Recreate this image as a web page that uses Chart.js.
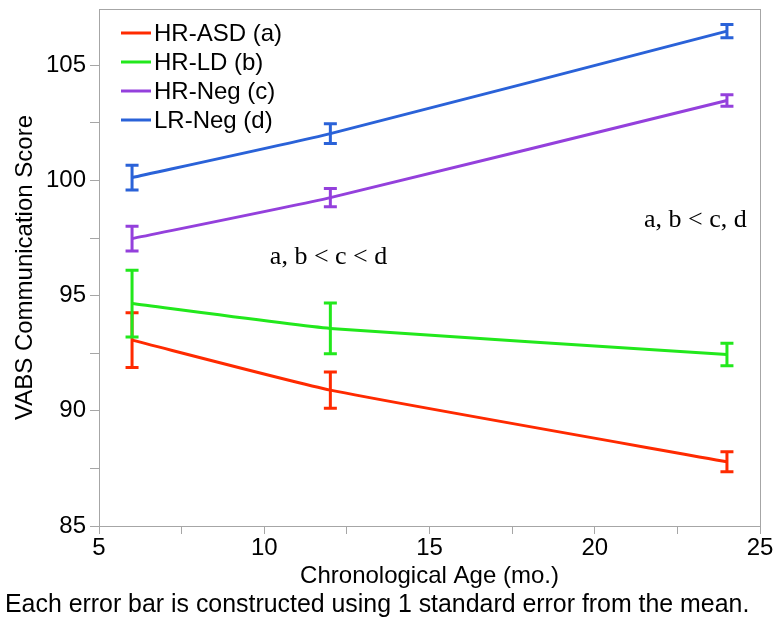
<!DOCTYPE html>
<html>
<head>
<meta charset="utf-8">
<script src="https://cdn.jsdelivr.net/npm/chart.js@4.4.0/dist/chart.umd.min.js"></script>
<style>
  body { margin: 0; background: #fff; }
  #chart { display: block; }
</style>
</head>
<body>
<canvas id="chart" width="774" height="621"></canvas>
<script>
// chronological age (months) of each visit
const ages = [6, 12, 24];

// group means and standard errors
const hrAsd = [93.07, 90.90, 87.79];
const hrAsdSe = [1.19, 0.79, 0.43];
const hrLd = [94.66, 93.58, 92.45];
const hrLdSe = [1.45, 1.10, 0.49];
const hrNeg = [97.48, 99.26, 103.48];
const hrNegSe = [0.54, 0.40, 0.25];
const lrNeg = [100.13, 102.04, 106.49];
const lrNegSe = [0.54, 0.43, 0.29];

const seriesNames = ['HR-ASD (a)', 'HR-LD (b)', 'HR-Neg (c)', 'LR-Neg (d)'];

// axis ticks (minor ticks carry an empty label)
const xTicks = [5, 7.5, 10, 12.5, 15, 17.5, 20, 22.5, 25];
const xTickLabels = ['5', '', '10', '', '15', '', '20', '', '25'];
const yTicks = [85, 87.5, 90, 92.5, 95, 97.5, 100, 102.5, 105];
const yTickLabels = ['85', '', '90', '', '95', '', '100', '', '105'];

const noteTexts = ['a, b < c < d', 'a, b < c, d'];
const footerText = 'Each error bar is constructed using 1 standard error from the mean.';

const SANS = '"Liberation Sans", Arial, sans-serif';
const SERIF = '"Liberation Serif", "Times New Roman", serif';
const FRAME = '#a6a6a6';
const colors = ['#ff2a00', '#22e81c', '#9440dc', '#2a62d8'];

const means = [hrAsd, hrLd, hrNeg, lrNeg];
const errors = [hrAsdSe, hrLdSe, hrNegSe, lrNegSe];

Chart.defaults.font.family = SANS;
Chart.defaults.color = '#000';

// error bars with caps, one per point
const errorBars = {
  id: 'errorBars',
  afterDatasetsDraw(chart) {
    const { ctx, scales: { x, y } } = chart;
    ctx.save();
    ctx.lineWidth = 3;
    chart.data.datasets.forEach((ds, d) => {
      ctx.strokeStyle = ds.borderColor;
      ds.data.forEach((p, i) => {
        const px = x.getPixelForValue(p.x);
        const top = y.getPixelForValue(p.y + errors[d][i]);
        const bot = y.getPixelForValue(p.y - errors[d][i]);
        ctx.beginPath();
        ctx.moveTo(px, top);
        ctx.lineTo(px, bot);
        ctx.moveTo(px - 6.5, top);
        ctx.lineTo(px + 6.5, top);
        ctx.moveTo(px - 6.5, bot);
        ctx.lineTo(px + 6.5, bot);
        ctx.stroke();
      });
    });
    ctx.restore();
  }
};

// frame, legend, notes and footer
const decorations = {
  id: 'decorations',
  afterDraw(chart) {
    const { ctx, chartArea: a, scales: { x, y } } = chart;
    ctx.save();
    ctx.strokeStyle = FRAME;
    ctx.lineWidth = 1;
    ctx.strokeRect(a.left + 0.5, a.top + 0.5, a.right - a.left, a.bottom - a.top);

    ctx.font = '24px ' + SANS;
    ctx.textBaseline = 'middle';
    ctx.fillStyle = '#000';
    chart.data.datasets.forEach((ds, i) => {
      const ly = 33 + i * 29;
      ctx.strokeStyle = ds.borderColor;
      ctx.lineWidth = 3;
      ctx.beginPath();
      ctx.moveTo(121, ly);
      ctx.lineTo(151, ly);
      ctx.stroke();
      ctx.fillText(ds.label, 154, ly + 1);
    });

    ctx.font = '26px ' + SERIF;
    ctx.textBaseline = 'alphabetic';
    ctx.textAlign = 'left';
    ctx.fillText(noteTexts[0], x.getPixelForValue(10.17), y.getPixelForValue(96.37));
    ctx.textAlign = 'right';
    ctx.fillText(noteTexts[1], x.getPixelForValue(24.6), y.getPixelForValue(97.97));

    ctx.font = '24.9px ' + SANS;
    ctx.textAlign = 'left';
    ctx.textBaseline = 'middle';
    ctx.fillText(footerText, 5, 605);
    ctx.restore();
  }
};

new Chart(document.getElementById('chart'), {
  type: 'line',
  data: {
    datasets: seriesNames.map((name, d) => ({
      label: name,
      data: ages.map((a, i) => ({ x: a, y: means[d][i] })),
      borderColor: colors[d],
      backgroundColor: colors[d],
      borderWidth: 3,
      pointRadius: 0,
      tension: 0.15,
      fill: false
    }))
  },
  options: {
    responsive: false,
    animation: false,
    devicePixelRatio: 1,
    layout: { padding: { top: 9, right: 14, left: 0, bottom: 0 } },
    plugins: { legend: { display: false }, tooltip: { enabled: false } },
    scales: {
      x: {
        type: 'linear',
        min: 5,
        max: 25,
        afterBuildTicks: s => { s.ticks = xTicks.map(v => ({ value: v })); },
        afterFit: s => { s.height = 95; s.paddingLeft = 0; s.paddingRight = 0; },
        ticks: {
          autoSkip: false,
          maxRotation: 0,
          padding: 0,
          font: { size: 24 },
          callback: (v, i) => xTickLabels[i]
        },
        grid: { drawOnChartArea: false, tickLength: 8, color: FRAME },
        border: { color: FRAME },
        title: {
          display: true,
          text: 'Chronological Age (mo.)',
          font: { size: 24 },
          padding: { top: 0, bottom: 30 }
        }
      },
      y: {
        min: 85,
        max: 107.45,
        afterBuildTicks: s => { s.ticks = yTicks.map(v => ({ value: v })); },
        afterFit: s => { s.width = 99; s.paddingTop = 0; s.paddingBottom = 0; },
        ticks: {
          autoSkip: false,
          padding: 4,
          font: { size: 24 },
          callback: (v, i) => yTickLabels[i]
        },
        grid: { drawOnChartArea: false, tickLength: 9, color: FRAME },
        border: { color: FRAME },
        title: {
          display: true,
          text: 'VABS Communication Score',
          font: { size: 24 },
          padding: { top: 11, bottom: 0 }
        }
      }
    }
  },
  plugins: [errorBars, decorations]
});
</script>
</body>
</html>
